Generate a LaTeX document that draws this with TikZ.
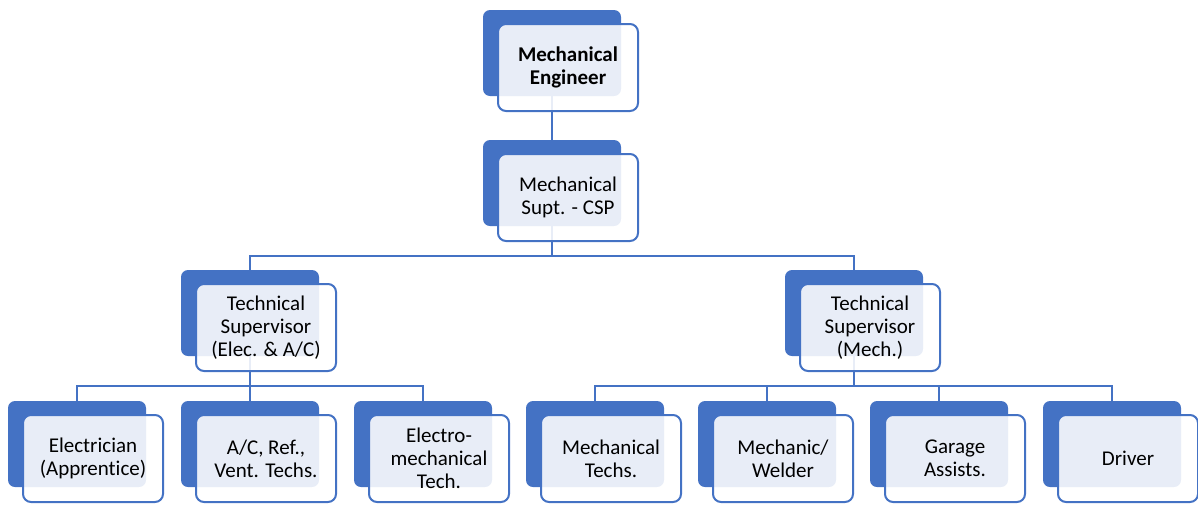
\documentclass[tikz,border=0pt]{standalone}
\usepackage{fontspec}
\setmainfont{Carlito}[Ligatures=NoCommon]
\usetikzlibrary{backgrounds}
\definecolor{orgblue}{HTML}{4472C4}
\tikzset{
  backbox/.style={fill=orgblue, rounded corners=7pt, minimum width=138pt,
    minimum height=86pt, inner sep=0pt, outer sep=0pt},
  frontbox/.style={draw=orgblue, line width=2pt, fill=white, fill opacity=0.88,
    text opacity=1, rounded corners=8pt, minimum width=140pt, minimum height=87pt,
    inner sep=0pt, outer sep=0pt, align=center, text=black,
    font=\fontsize{21}{23}\selectfont},
  link/.style={draw=orgblue, line width=2.2pt}
}
% one unit: blue back card plus outlined text card; #1 name, #2 left, #3 top, #4 text
\newcommand\orgunit[4]{%
  \node[backbox] (#1-b) at ({#2+69},{#3+43}) {};
  \node[frontbox] (#1-f) at ({#2+85},{#3+57.5}) {#4};
}
\begin{document}
\begin{tikzpicture}[x=1pt,y=-1pt]
  \useasboundingbox (0,0) rectangle (1198,507);
  \orgunit{eng}{483}{10}{\bfseries Mechanical\\\bfseries Engineer}
  \orgunit{csp}{483}{140}{Mechanical\\Supt. - CSP}
  \orgunit{tse}{181}{270}{Technical\\Supervisor\\(Elec. \& A/C)}
  \orgunit{tsm}{785}{270}{Technical\\Supervisor\\(Mech.)}
  \orgunit{ele}{8}{401}{Electrician\\(Apprentice)}
  \orgunit{acr}{181}{401}{A/C, Ref.,\\Vent. Techs.}
  \orgunit{emt}{354}{401}{Electro-\\mechanical\\Tech.}
  \orgunit{mct}{526}{401}{Mechanical\\Techs.}
  \orgunit{mwd}{698}{401}{Mechanic/\\Welder}
  \orgunit{gar}{870}{401}{Garage\\Assists.}
  \orgunit{drv}{1043}{401}{Driver}
  \begin{scope}[on background layer]
    \draw[link] (eng-b.south) -- (csp-b.north);
    \draw[link] (csp-b.south) -- ++(0,30) -| (tse-b.north);
    \draw[link] (csp-b.south) -- ++(0,30) -| (tsm-b.north);
    \foreach \c in {ele,acr,emt}
      \draw[link] (tse-b.south) -- ++(0,30) -| (\c-b.north);
    \foreach \c in {mct,mwd,gar,drv}
      \draw[link] (tsm-b.south) -- ++(0,30) -| (\c-b.north);
  \end{scope}
\end{tikzpicture}
\end{document}
